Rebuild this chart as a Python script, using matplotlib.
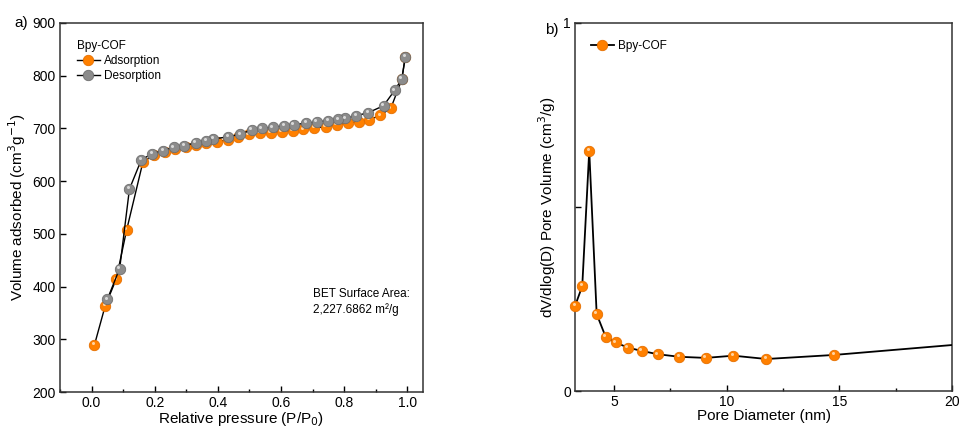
import numpy as np
import matplotlib.pyplot as plt
from matplotlib.ticker import MultipleLocator
from matplotlib.transforms import offset_copy

plt.rcParams['font.family'] = ['Liberation Sans', 'DejaVu Sans']

# isotherm data (a)
p_ads = [0.009, 0.043, 0.078, 0.111, 0.163, 0.198, 0.232, 0.265, 0.298, 0.331,
         0.364, 0.397, 0.431, 0.464, 0.498, 0.533, 0.568, 0.602, 0.637, 0.671,
         0.706, 0.742, 0.777, 0.812, 0.846, 0.880, 0.914, 0.948, 0.983, 0.994]
v_ads = [289, 363, 414, 507, 637, 649, 656, 661, 665, 669,
         672, 675, 678, 684, 689, 691, 692, 694, 696, 698,
         701, 703, 707, 710, 713, 716, 725, 738, 793, 836]
p_des = [0.994, 0.983, 0.960, 0.925, 0.877, 0.838, 0.803, 0.782, 0.750, 0.713,
         0.680, 0.641, 0.610, 0.574, 0.539, 0.507, 0.470, 0.433, 0.385, 0.364,
         0.330, 0.293, 0.260, 0.226, 0.193, 0.158, 0.120, 0.089, 0.050]
v_des = [836, 794, 772, 743, 730, 724, 719, 717, 715, 712,
         710, 707, 705, 702, 700, 697, 689, 684, 680, 677,
         673, 667, 664, 658, 652, 641, 585, 434, 376]

# pore size distribution (b)
d_pore = [3.27, 3.59, 3.90, 4.23, 4.63, 5.07, 5.61, 6.23, 6.94, 7.90,
          9.07, 10.3, 11.76, 14.76, 23.5]
dv_pore = [0.231, 0.285, 0.653, 0.209, 0.147, 0.132, 0.118, 0.109, 0.100, 0.093,
           0.090, 0.096, 0.087, 0.098, 0.143]

orange = '#ff8000'
orange_edge = '#e56f00'
orange_hi = '#ffd2a0'
gray = '#8c8c8c'
gray_edge = '#6e6e6e'
gray_hi = '#d8d8d8'

fig = plt.figure(figsize=(9.6, 4.28), dpi=100)
ax1 = fig.add_axes([0.0625, 0.0841, 0.3781, 0.8622])
ax2 = fig.add_axes([0.599, 0.0864, 0.3927, 0.8599])


def highlight(ax, x, y, color, z):
    # small light spot to give the markers a ball look
    tr = offset_copy(ax.transData, fig=fig, x=-1.0, y=1.2, units='points')
    ax.plot(x, y, 'o', ms=2.2, mfc=color, mec='none', transform=tr,
            zorder=z, clip_on=False)


# panel a
ax1.plot(p_ads, v_ads, '-', color='black', lw=1.0, marker='o', ms=7.5,
         mfc=orange, mec=orange_edge, mew=0.6, label='Adsorption', zorder=3)
highlight(ax1, p_ads, v_ads, orange_hi, 3.5)
ax1.plot(p_des, v_des, '-', color='black', lw=1.0, marker='o', ms=7.5,
         mfc=gray, mec=gray_edge, mew=0.6, label='Desorption', zorder=4)
highlight(ax1, p_des, v_des, gray_hi, 4.5)
ax1.set_xlim(-0.1, 1.05)
ax1.set_ylim(200, 900)
ax1.xaxis.set_minor_locator(MultipleLocator(0.1))
ax1.yaxis.set_major_locator(MultipleLocator(100))
ax1.set_xticks([0.0, 0.2, 0.4, 0.6, 0.8, 1.0])
ax1.set_xticklabels(['0.0', '0.2', '0.4', '0.6', '0.8', '1.0'])
ax1.set_xlabel('Relative pressure (P/P$_0$)', fontsize=11, labelpad=0)
ax1.set_ylabel('Volume adsorbed (cm$^3$g$^{-1}$)', fontsize=11, labelpad=3)
leg1 = ax1.legend(loc='upper left', title='Bpy-COF', frameon=False, fontsize=8.5,
                  title_fontsize=8.5, handlelength=2.0, handletextpad=0.3,
                  labelspacing=0.25, borderaxespad=0.6, bbox_to_anchor=(0.013, 0.985))
leg1._legend_box.align = 'left'
ax1.text(0.697, 0.205, 'BET Surface Area:\n2,227.6862 m\u00b2/g', transform=ax1.transAxes,
         fontsize=8.5, va='bottom', ha='left', linespacing=1.35)
ax1.text(-0.088, 1.0, 'a)', transform=ax1.transAxes, fontsize=11, ha='right', va='center')

# panel b
d_arr = np.array(d_pore)
dv_arr = np.array(dv_pore)
inside = d_arr <= 20
ax2.plot(d_arr, dv_arr, '-', color='black', lw=1.3, zorder=3)
ax2.plot(d_arr[inside], dv_arr[inside], 'o', ms=7.5, mfc=orange, mec=orange_edge,
         mew=0.6, clip_on=False, zorder=4)
highlight(ax2, d_arr[inside], dv_arr[inside], orange_hi, 4.5)
ax2.plot([], [], '-', color='black', lw=1.3, marker='o', ms=7.5, mfc=orange,
         mec=orange_edge, mew=0.6, label='Bpy-COF')
ax2.set_xlim(3.27, 20)
ax2.set_ylim(0, 1)
ax2.set_xticks([5, 10, 15, 20])
ax2.xaxis.set_minor_locator(MultipleLocator(2.5))
ax2.set_yticks([0, 0.5, 1])
ax2.set_yticklabels(['0', '', '1'])
ax2.set_xlabel('Pore Diameter (nm)', fontsize=11, labelpad=0)
ax2.set_ylabel('dV/dlog(D) Pore Volume (cm$^3$/g)', fontsize=11, labelpad=4)
ax2.legend(loc='upper left', frameon=False, fontsize=8.5, handlelength=2.0,
           handletextpad=0.3, borderaxespad=0.6, bbox_to_anchor=(0.01, 0.985))
ax2.text(-0.045, 1.0, 'b)', transform=ax2.transAxes, fontsize=11, ha='right', va='top')

for ax in (ax1, ax2):
    for s in ax.spines.values():
        s.set_linewidth(1.1)
        s.set_color('#333333')
    ax.tick_params(which='both', direction='in', labelsize=10, width=1.0)
    ax.tick_params(which='major', length=4, pad=3)
    ax.tick_params(which='minor', length=2.5)

fig.savefig('out.png', dpi=100)
